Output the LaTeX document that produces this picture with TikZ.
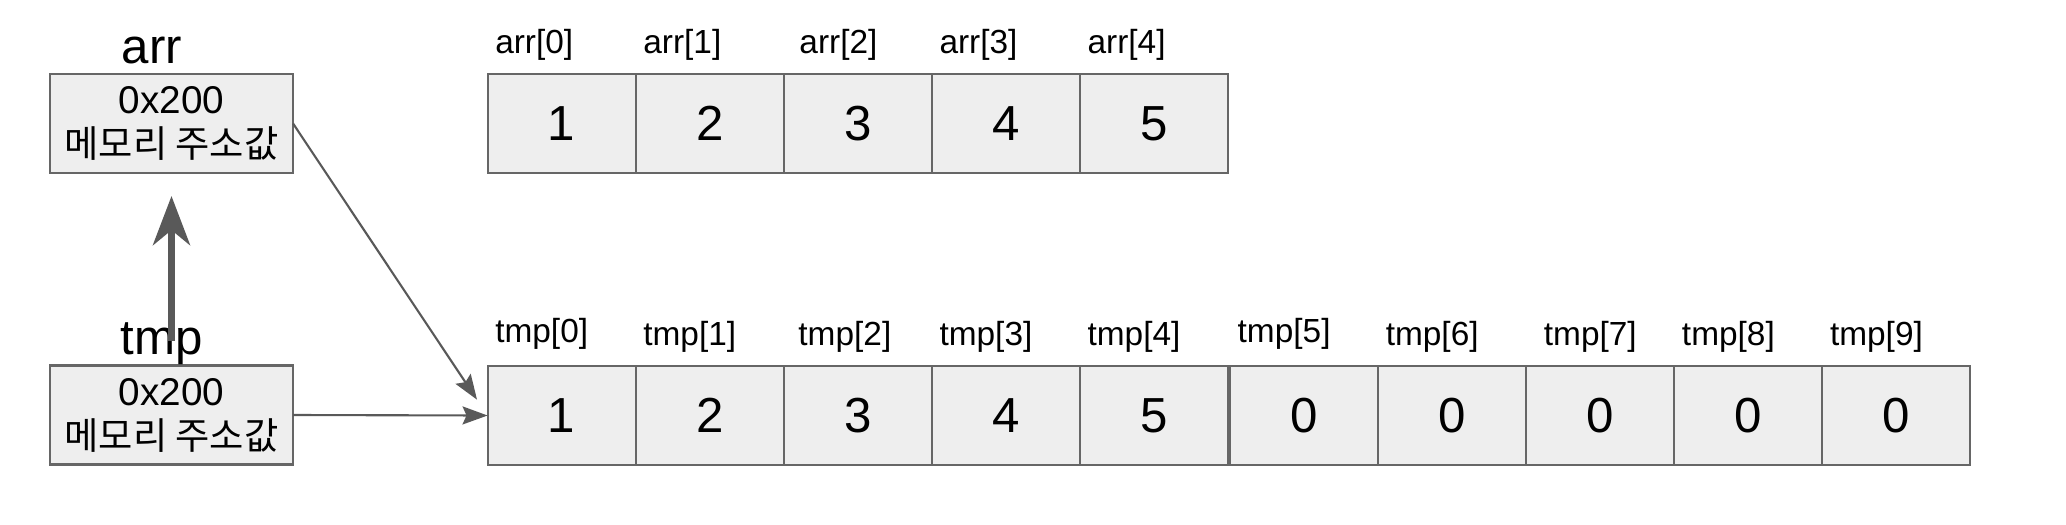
\documentclass[tikz,border=0pt]{standalone}
\usepackage{fontspec}
\setmainfont{Liberation Sans}
\newfontfamily\kor{Noto Sans CJK KR}
\usepackage{tikz}
\usetikzlibrary{positioning}
\usetikzlibrary{arrows.meta}
\usepackage{xcolor}
\definecolor{boxfill}{HTML}{EEEEEE}
\definecolor{boxline}{HTML}{666666}
\definecolor{arrowc}{HTML}{595959}

\begin{document}
\begin{tikzpicture}[x=0.01cm, y=-0.01cm,
  cell/.style = {draw=boxline, fill=boxfill, line width=0.6pt, outer sep=0pt, inner sep=0pt,
    minimum width=1.48cm, minimum height=0.99cm, font=\fontsize{14}{16}\selectfont},
  ptr/.style = {cell, minimum width=2.43cm, align=center, font=\fontsize{11}{12.5}\selectfont},
  idx/.style = {anchor=base west, inner sep=0pt, xshift=0.07cm, yshift=0.2cm, font=\fontsize{9.5}{11}\selectfont},
  var/.style = {anchor=base west, inner sep=0pt, font=\fontsize{14}{16}\selectfont},
  link/.style = {draw=arrowc, line width=0.6pt, -{Stealth[length=0.25cm, width=0.18cm, inset=0.04cm]}},
  bigarr/.style = {draw=arrowc, line width=2pt, -{Stealth[length=0.49cm, width=0.37cm, inset=0.15cm]}},
  node distance=0pt]
\useasboundingbox (0,0) rectangle (2066,524);
% pointer variables
\node[ptr] (arrbox) at (171.5,123.5) {0x200\\{\kor\fontsize{10.6}{12.5}\selectfont 메모리 주소값}};
\node[ptr] (tmpbox) at (171.5,415) {0x200\\{\kor\fontsize{10.6}{12.5}\selectfont 메모리 주소값}};
\node[var] (arrlbl) at (121,63) {arr};
\node[var] (tmplbl) at (120,354) {tmp};
% arr
\node[cell] (a0) at (561.6,123.5) {1};
\node[cell] (a1) [right=of a0] {2};
\node[cell] (a2) [right=of a1] {3};
\node[cell] (a3) [right=of a2] {4};
\node[cell] (a4) [right=of a3] {5};
\node[idx] (la0) at (a0.north west) {arr[0]};
\node[idx] (la1) at (a1.north west) {arr[1]};
\node[idx, xshift=0.08cm] (la2) at (a2.north west) {arr[2]};
\node[idx] (la3) at (a3.north west) {arr[3]};
\node[idx] (la4) at (a4.north west) {arr[4]};
% tmp
\node[cell] (t0) at (561.6,415.5) {1};
\node[cell] (t1) [right=of t0] {2};
\node[cell] (t2) [right=of t1] {3};
\node[cell] (t3) [right=of t2] {4};
\node[cell] (t4) [right=of t3] {5};
\node[cell] (t5) [right=0.02cm of t4] {0};
\node[cell] (t6) [right=of t5] {0};
\node[cell] (t7) [right=of t6] {0};
\node[cell] (t8) [right=of t7] {0};
\node[cell] (t9) [right=of t8] {0};
\node[idx, yshift=0.03cm] (lt0) at (t0.north west) {tmp[0]};
\node[idx] (lt1) at (t1.north west) {tmp[1]};
\node[idx, xshift=0.07cm] (lt2) at (t2.north west) {tmp[2]};
\node[idx] (lt3) at (t3.north west) {tmp[3]};
\node[idx] (lt4) at (t4.north west) {tmp[4]};
\node[idx, yshift=0.03cm] (lt5) at (t5.north west) {tmp[5]};
\node[idx] (lt6) at (t6.north west) {tmp[6]};
\node[idx, xshift=0.1cm] (lt7) at (t7.north west) {tmp[7]};
\node[idx] (lt8) at (t8.north west) {tmp[8]};
\node[idx] (lt9) at (t9.north west) {tmp[9]};
% connectors
\path (tmpbox.north) edge [bigarr, shorten <=0.24cm, shorten >=0.23cm] (arrbox.south);
\path (arrbox.east) edge [link, shorten >=0.19cm] (t0.west);
\path (tmpbox.east) edge [link] (t0.west);
\end{tikzpicture}
\end{document}
